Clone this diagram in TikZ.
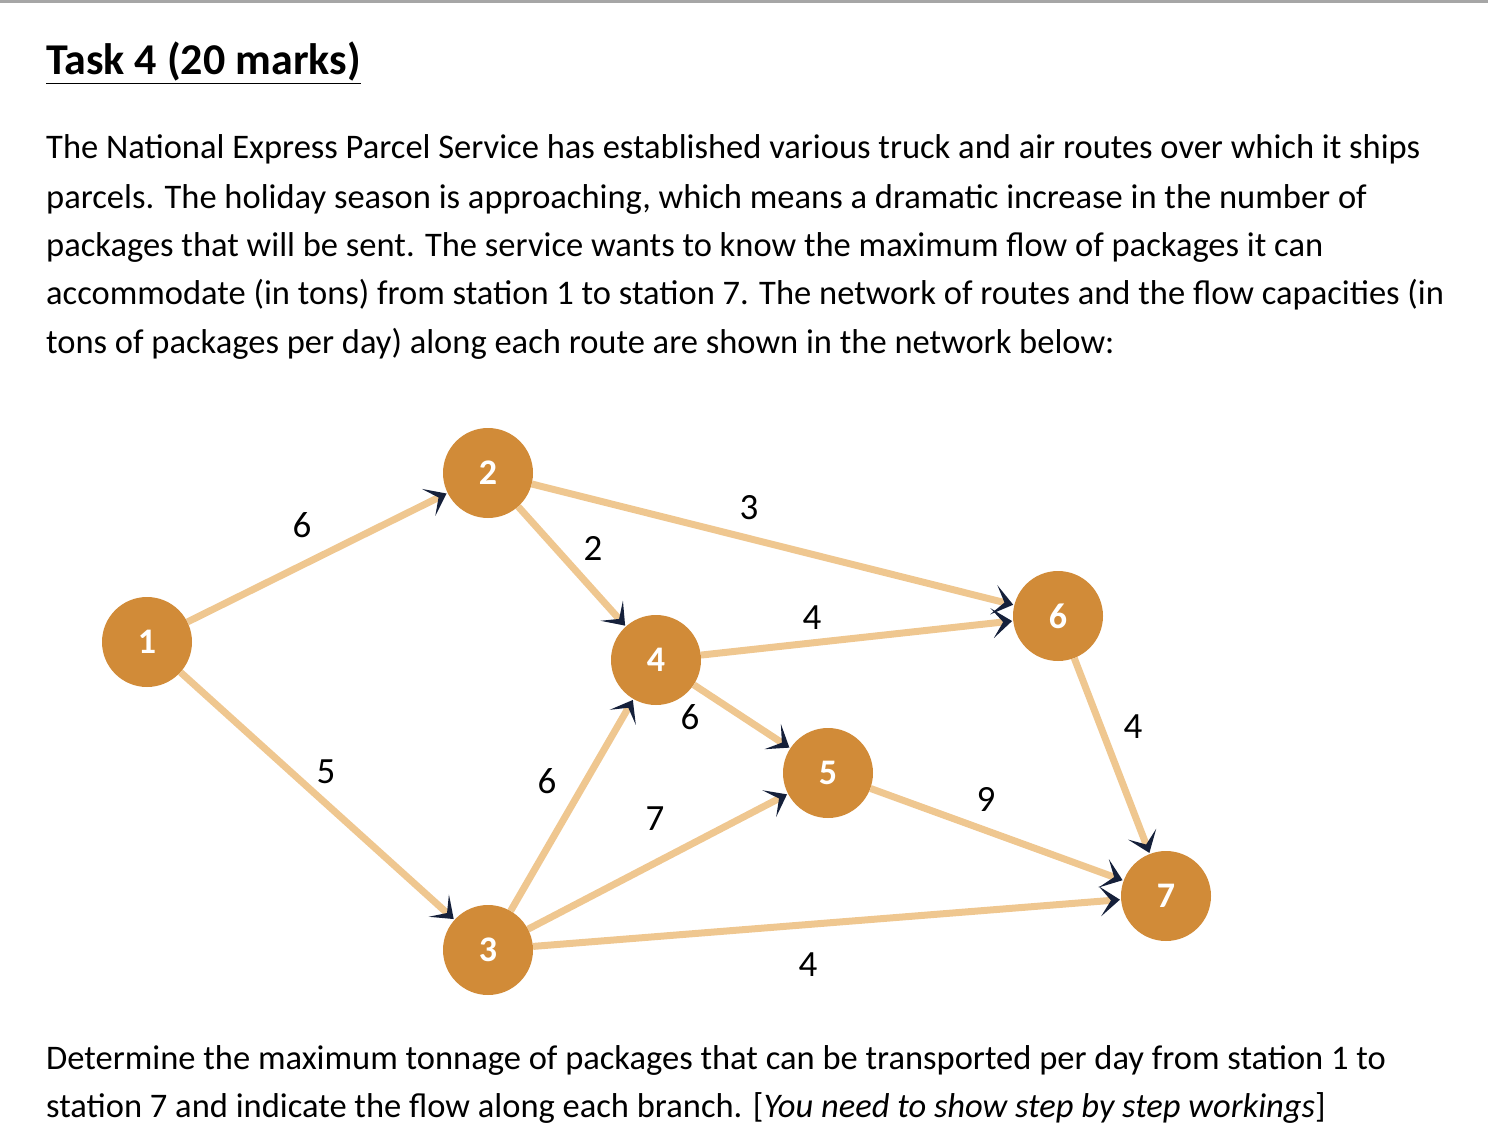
\documentclass[tikz,border=0pt]{standalone}
\usepackage{fontspec}
\setmainfont{Carlito}
\usetikzlibrary{arrows.meta,backgrounds}
\definecolor{nodeor}{HTML}{D18B38}
\definecolor{edgeor}{HTML}{EFC790}
\definecolor{tipc}{HTML}{15203A}
\tikzset{
  stn/.style={circle,fill=nodeor,minimum size=90pt,inner sep=0pt,text=white,font=\fontsize{36}{36}\selectfont\bfseries},
  rte/.style={draw=edgeor,line width=7pt,-{Stealth[length=20pt,width=30pt,inset=11pt,color=tipc]},shorten >=1pt},
  lbl/.style={font=\fontsize{37}{37}\selectfont},
  txt/.style={anchor=base west,inner sep=0pt,font=\fontsize{34.5}{34.5}\selectfont}
}
\begin{document}
\begin{tikzpicture}[x=1pt,y=-1pt]
\useasboundingbox (0,0) rectangle (1488,1142);
\fill[gray!70] (0,0) rectangle (1488,3);
\node[txt,font=\fontsize{44}{44}\selectfont\bfseries] (title) at (46,75) {\underline{Task 4 (20 marks)}};
\node[txt] (l1) at (46,159) {The National Express Parcel Service has established various truck and air routes over which it ships};
\node[txt] (l2) at (46,208) {parcels. The holiday season is approaching, which means a dramatic increase in the number of};
\node[txt] (l3) at (46,256) {packages that will be sent. The service wants to know the maximum flow of packages it can};
\node[txt] (l4) at (46,304) {accommodate (in tons) from station 1 to station 7. The network of routes and the flow capacities (in};
\node[txt] (l5) at (46,353) {tons of packages per day) along each route are shown in the network below:};
\node[txt] (l6) at (46,1069) {Determine the maximum tonnage of packages that can be transported per day from station 1 to};
\node[txt] (l7) at (46,1117) {station 7 and indicate the flow along each branch. [\textit{You need to show step by step workings}]};

\node[stn] (n1) at (147,642) {1};
\node[stn] (n2) at (488,473) {2};
\node[stn] (n3) at (488,950) {3};
\node[stn] (n4) at (656,660) {4};
\node[stn] (n5) at (828,773) {5};
\node[stn] (n6) at (1058,616) {6};
\node[stn] (n7) at (1166,896) {7};

\begin{scope}[on background layer]
\draw[rte] (n1) -- (n2);
\draw[rte] (n1) -- (n3);
\draw[rte] (n2) -- (n4);
\draw[rte] (n2) -- (n6);
\draw[rte] (n3) -- (n4);
\draw[rte] (n3) -- (n5);
\draw[rte] (n3) -- (n7);
\draw[rte] (n4) -- (n6);
\draw[rte] (n4) -- (n5);
\draw[rte] (n5) -- (n7);
\draw[rte] (n6) -- (n7);
\end{scope}

\node[lbl] (c12) at (302,525) {6};
\node[lbl] (c24) at (593,548) {2};
\node[lbl] (c26) at (749,508) {3};
\node[lbl] (c46) at (812,618) {4};
\node[lbl] (c45) at (690,717) {6};
\node[lbl] (c13) at (326,772) {5};
\node[lbl] (c34) at (547,781) {6};
\node[lbl] (c35) at (655,819) {7};
\node[lbl] (c67) at (1133,727) {4};
\node[lbl] (c57) at (986,799) {9};
\node[lbl] (c37) at (808,965) {4};
\end{tikzpicture}
\end{document}
